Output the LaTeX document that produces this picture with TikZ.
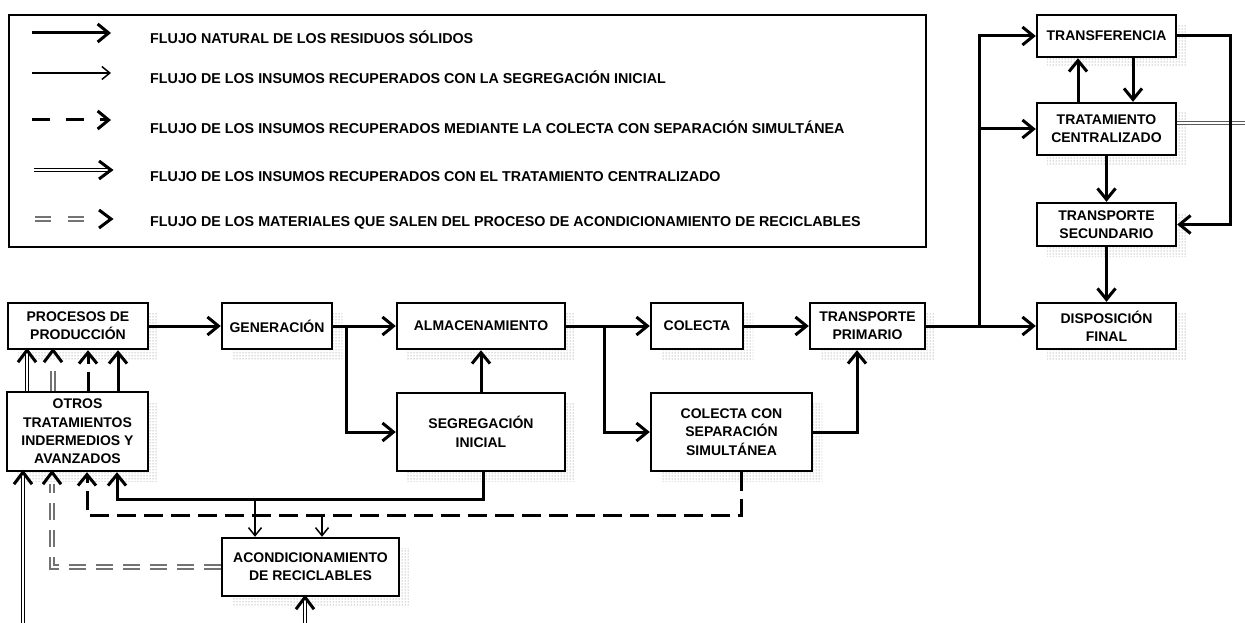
\documentclass[tikz,border=0pt]{standalone}
\usepackage{fontspec}
\setmainfont{Liberation Sans}
\usetikzlibrary{arrows.meta,patterns,shadows,calc}
\newcommand{\bxfont}{\fontsize{14}{18.3}\selectfont\bfseries}
\newcommand{\lgfont}{\fontsize{14.3}{17}\selectfont\bfseries}
\newcommand{\chevU}[1]{\draw[chev] ($(#1)+(-9,12)$) -- (#1) -- ($(#1)+(9,12)$);}
\newcommand{\chevR}[1]{\draw[chev] ($(#1)+(-12,-9)$) -- (#1) -- ($(#1)+(-12,9)$);}
\begin{document}
\begin{tikzpicture}[x=1pt,y=-1pt,
  box/.style={draw, line width=2.4pt, fill=white, align=center, inner sep=0pt, font=\bxfont,
    general shadow={shadow xshift=10pt, shadow yshift=-10pt, pattern=dots, pattern color=black!55}},
  flow/.style={line width=3pt, -{Straight Barb[length=11pt,width=18pt]}},
  thinflow/.style={line width=1.5pt, -{Straight Barb[length=8pt,width=13pt]}},
  dashflow/.style={flow, dash pattern=on 19pt off 8pt},
  dbl/.style={double, line width=1.2pt, double distance=2.2pt},
  gdbl/.style={draw=black!55, double=white, line width=2pt, double distance=1.6pt, dash pattern=on 17pt off 10pt},
  chev/.style={line width=3pt, line join=miter}
]
\useasboundingbox (0,0) rectangle (1245,623);

% ---------- legend ----------
\node[draw, line width=2pt, minimum width=917pt, minimum height=232pt, inner sep=0pt, anchor=north west] (legend) at (8,14) {};
\coordinate (l1a) at (32,33);  \coordinate (l1b) at (111,33);
\coordinate (l2a) at (32,73);  \coordinate (l2b) at (111,73);
\coordinate (l3a) at (32,120); \coordinate (l3b) at (111,120);
\coordinate (l4a) at (34,170); \coordinate (l4b) at (111,170);
\coordinate (l5a) at (35,219); \coordinate (l5b) at (111,219);
\draw[flow] (l1a) -- (l1b);
\draw[thinflow] (l2a) -- (l2b);
\draw[flow, dash pattern=on 18pt off 16pt] (l3a) -- (l3b);
\draw[dbl] (l4a) -- ($(l4b)+(-4,0)$); \chevR{l4b}
\draw[gdbl, dash pattern=on 16pt off 17pt] (l5a) -- ($(l5b)+(-22,0)$); \chevR{l5b}
\node[anchor=west, font=\lgfont, inner sep=0pt] (t1) at (150,37) {FLUJO NATURAL DE LOS RESIDUOS SÓLIDOS};
\node[anchor=west, font=\lgfont, inner sep=0pt] (t2) at (150,77) {FLUJO DE LOS INSUMOS RECUPERADOS CON LA SEGREGACIÓN INICIAL};
\node[anchor=west, font=\lgfont, inner sep=0pt] (t3) at (150,127) {FLUJO DE LOS INSUMOS RECUPERADOS MEDIANTE LA COLECTA CON SEPARACIÓN SIMULTÁNEA};
\node[anchor=west, font=\lgfont, inner sep=0pt] (t4) at (150,177) {FLUJO DE LOS INSUMOS RECUPERADOS CON EL TRATAMIENTO CENTRALIZADO};
\node[anchor=west, font=\lgfont, inner sep=0pt] (t5) at (150,223) {FLUJO DE LOS MATERIALES QUE SALEN DEL PROCESO DE ACONDICIONAMIENTO DE RECICLABLES};

% ---------- boxes ----------
\node[box, minimum width=140pt, minimum height=46pt] (proc) at (78,326) {PROCESOS DE\\PRODUCCIÓN};
\node[box, minimum width=110pt, minimum height=46pt] (gen) at (277,326) {GENERACIÓN};
\node[box, minimum width=168pt, minimum height=46pt] (alm) at (481,326) {ALMACENAMIENTO};
\node[box, minimum width=168pt, minimum height=78pt] (seg) at (481,432) {SEGREGACIÓN\\INICIAL};
\node[box, minimum width=92pt, minimum height=46pt] (col) at (697,326) {COLECTA};
\node[box, minimum width=161pt, minimum height=78pt] (colsep) at (731.5,432) {COLECTA CON\\SEPARACIÓN\\SIMULTÁNEA};
\node[box, minimum width=115pt, minimum height=46pt] (tp) at (867.5,326) {TRANSPORTE\\PRIMARIO};
\node[box, minimum width=139pt, minimum height=42pt] (trf) at (1106.5,36) {TRANSFERENCIA};
\node[box, minimum width=139pt, minimum height=52pt] (tc) at (1106.5,129) {TRATAMIENTO\\CENTRALIZADO};
\node[box, minimum width=139pt, minimum height=43pt] (ts) at (1106.5,224.5) {TRANSPORTE\\SECUNDARIO};
\node[box, minimum width=139pt, minimum height=46pt] (df) at (1106.5,326) {DISPOSICIÓN\\FINAL};
\node[box, minimum width=141pt, minimum height=79pt] (otros) at (77.5,431.5) {OTROS\\TRATAMIENTOS\\INDERMEDIOS Y\\AVANZADOS};
\node[box, minimum width=177pt, minimum height=58pt] (acon) at (310.5,567) {ACONDICIONAMIENTO\\DE RECICLABLES};

% ---------- main flow ----------
\draw[flow] (proc.east) -- (gen.west);
\draw[flow] (gen.east) -- (alm.west);
\coordinate (b1) at (346,0 |- gen.east);
\draw[flow] (b1) |- (seg.west);
\draw[flow] (seg.north) -- (alm.south);
\draw[flow] (alm.east) -- (col.west);
\coordinate (b2) at (604,0 |- alm.east);
\draw[flow] (b2) |- (colsep.west);
\draw[flow] (col.east) -- (tp.west);
\coordinate (tpin) at (857,0 |- tp.south);
\draw[flow] (colsep.east) -| (tpin);
\draw[flow] (tp.east) -- (df.west);
\coordinate (b3) at (979,0 |- tp.east);
\draw[flow] (b3) |- (trf.west);
\draw[flow] (b3 |- tc.west) -- (tc.west);
\draw[flow] (1078,0 |- tc.north) -- (1078,0 |- trf.south);
\draw[flow] (1133,0 |- trf.south) -- (1133,0 |- tc.north);
\coordinate (tcout) at ([yshift=6pt]tc.east);
\coordinate (tcend) at (1250,0 |- tcout);
\draw[dbl, line width=1pt, draw=black!65] (tcout) -- (tcend);
\coordinate (b4) at (1230,0 |- trf.east);
\draw[flow] (trf.east) -- (b4) |- (ts.east);
\draw[flow] (tc.south) -- (ts.north);
\draw[flow] (ts.south) -- (df.north);

% ---------- OTROS -> PROCESOS ----------
\coordinate (u1) at (27,0 |- proc.south);  \coordinate (s1) at (27,0 |- otros.north);
\coordinate (u2) at (53,0 |- proc.south);  \coordinate (s2) at (53,0 |- otros.north);
\coordinate (u3) at (88,0 |- proc.south);  \coordinate (s3) at (88,0 |- otros.north);
\coordinate (u4) at (118,0 |- proc.south); \coordinate (s4) at (118,0 |- otros.north);
\draw[dbl] (s1) -- ($(u1)+(0,4)$); \chevU{u1}
\draw[gdbl, dash pattern=on 20pt off 30pt] (s2) -- ($(u2)+(0,12)$); \chevU{u2}
\draw[dashflow] (s3) -- (u3);
\draw[flow] (s4) -- (u4);

% ---------- into OTROS ----------
\coordinate (v1) at (23,0 |- otros.south);  \coordinate (e1) at (23,630);
\coordinate (v2) at (52,0 |- otros.south);
\coordinate (v3) at (87,0 |- otros.south);
\coordinate (v4) at (117,0 |- otros.south);
\draw[dbl] (e1) -- ($(v1)+(0,4)$); \chevU{v1}
\draw[gdbl] (acon.west) -| ($(v2)+(0,12)$); \chevU{v2}
\coordinate (cs) at (741,0 |- colsep.south);
\coordinate (cd) at (741,515);
\draw[dashflow] (cs) -- (cd) -| (v3);
\coordinate (ss) at (483,0 |- seg.south);
\coordinate (sd) at (483,499);
\draw[flow] (ss) -- (sd) -| (v4);

% ---------- into ACONDICIONAMIENTO ----------
\coordinate (j1) at (255,499); \coordinate (k1) at (255,0 |- acon.north);
\coordinate (j2) at (322,515); \coordinate (k2) at (322,0 |- acon.north);
\draw[thinflow] (j1) -- (k1);
\draw[thinflow] (j2) -- (k2);
\coordinate (w1) at (305,0 |- acon.south); \coordinate (e2) at (305,630);
\draw[dbl] (e2) -- ($(w1)+(0,4)$); \chevU{w1}
\end{tikzpicture}
\end{document}
